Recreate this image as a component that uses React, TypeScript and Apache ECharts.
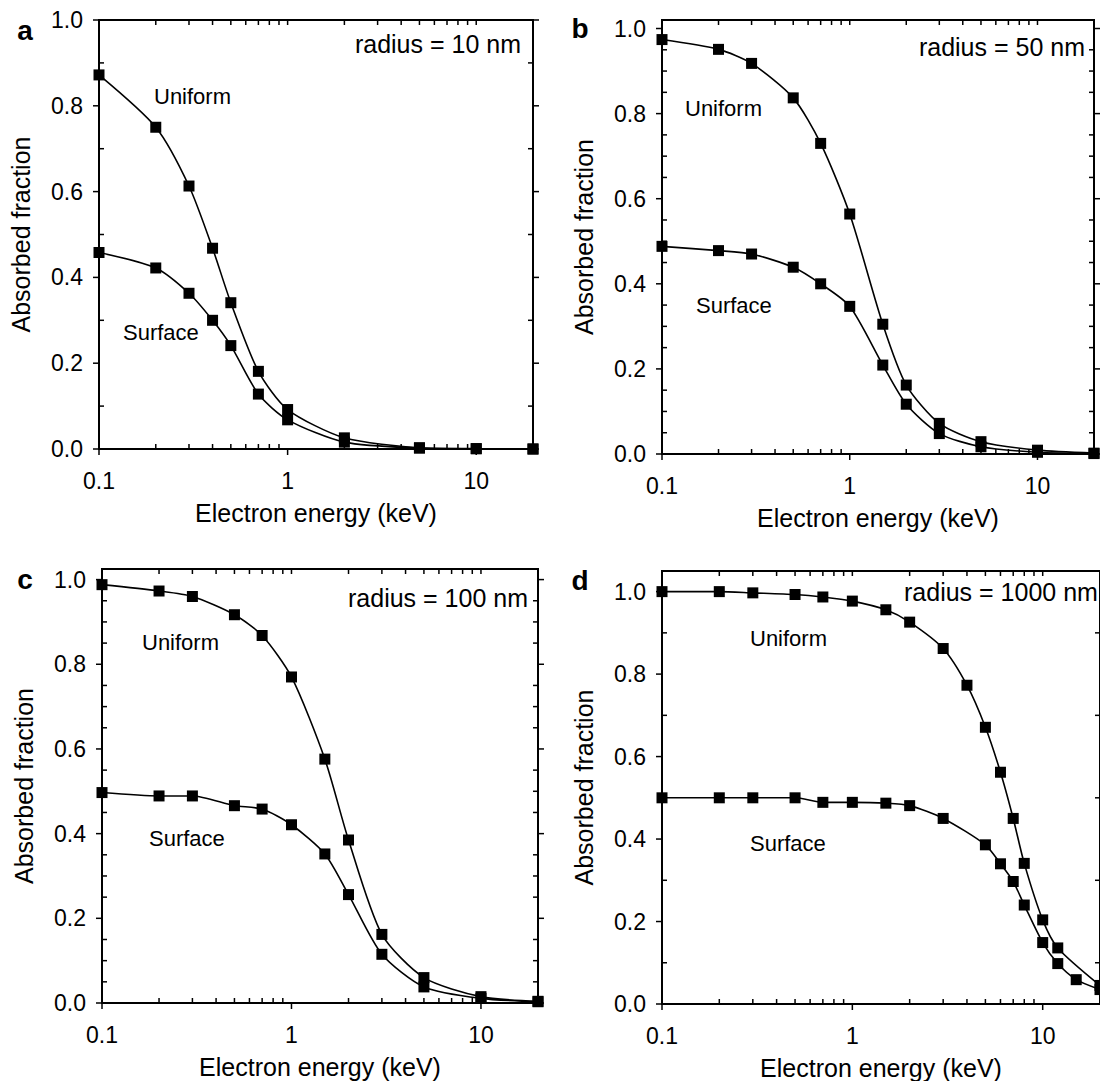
import React, { useEffect, useRef } from "react";
import * as echarts from "echarts";

// ---------- data ----------
const energyA = [0.1, 0.2, 0.3, 0.4, 0.5, 0.7, 1, 2, 5, 10, 20];
const uniformA = [0.872, 0.75, 0.613, 0.468, 0.341, 0.181, 0.092, 0.026, 0.003, 0.001, 0];
const surfaceA = [0.458, 0.422, 0.363, 0.3, 0.241, 0.128, 0.068, 0.016, 0.002, 0.0005, 0];

const energyBC = [0.1, 0.2, 0.3, 0.5, 0.7, 1, 1.5, 2, 3, 5, 10, 20];
const uniformB = [0.974, 0.951, 0.918, 0.837, 0.73, 0.564, 0.305, 0.162, 0.072, 0.029, 0.009, 0.002];
const surfaceB = [0.488, 0.478, 0.47, 0.439, 0.4, 0.347, 0.209, 0.117, 0.048, 0.017, 0.004, 0.001];
const uniformC = [0.988, 0.973, 0.96, 0.917, 0.868, 0.77, 0.576, 0.385, 0.162, 0.06, 0.015, 0.004];
const surfaceC = [0.497, 0.489, 0.489, 0.466, 0.458, 0.421, 0.352, 0.256, 0.115, 0.038, 0.011, 0.003];

const energyUniformD = [0.1, 0.2, 0.3, 0.5, 0.7, 1, 1.5, 2, 3, 4, 5, 6, 7, 8, 10, 12, 20];
const uniformD = [1.0, 1.0, 0.997, 0.993, 0.987, 0.977, 0.956, 0.926, 0.862, 0.773, 0.671, 0.562, 0.45, 0.341, 0.204, 0.136, 0.045];
const energySurfaceD = [0.1, 0.2, 0.3, 0.5, 0.7, 1, 1.5, 2, 3, 5, 6, 7, 8, 10, 12, 15, 20];
const surfaceD = [0.5, 0.5, 0.5, 0.5, 0.489, 0.489, 0.487, 0.481, 0.45, 0.386, 0.34, 0.297, 0.24, 0.149, 0.098, 0.059, 0.035];

// ---------- ticks ----------
const xMin = 0.1;
const xMax = 20;
const xMajorTicks = [0.1, 1, 10];
const xMinorTicks = [0.2, 0.3, 0.4, 0.5, 0.6, 0.7, 0.8, 0.9, 2, 3, 4, 5, 6, 7, 8, 9];
const xTopTicks = [0.2, 0.3, 0.4, 0.5, 0.6, 0.7, 0.8, 0.9, 1, 2, 3, 4, 5, 6, 7, 8, 9, 10];
const yMajorTicks = [0, 0.2, 0.4, 0.6, 0.8, 1.0];
const yMinorTenths = [0.1, 0.3, 0.5, 0.7, 0.9];
const yMinorTwentieths = [0.05, 0.1, 0.15, 0.25, 0.3, 0.35, 0.45, 0.5, 0.55, 0.65, 0.7, 0.75, 0.85, 0.9, 0.95];

const xTitle = "Electron energy (keV)";
const yTitle = "Absorbed fraction";

// ---------- layout ----------
const FONT = "'Liberation Sans', Arial, Helvetica, sans-serif";

const panels = [
  {
    letter: "a", radius: "radius = 10 nm",
    grid: { left: 99, top: 20, width: 434, height: 429 }, yMax: 1.0, yMinor: yMinorTenths,
    uniform: { x: energyA, y: uniformA }, surface: { x: energyA, y: surfaceA },
    letterPos: [25, 30], radiusPos: [521, 44, "right"], uniformPos: [154, 96], surfacePos: [123, 332],
  },
  {
    letter: "b", radius: "radius = 50 nm",
    grid: { left: 662, top: 20, width: 432, height: 434 }, yMax: 1.02, yMinor: yMinorTwentieths,
    uniform: { x: energyBC, y: uniformB }, surface: { x: energyBC, y: surfaceB },
    letterPos: [580, 28], radiusPos: [1085, 47, "right"], uniformPos: [685, 108], surfacePos: [696, 305],
  },
  {
    letter: "c", radius: "radius = 100 nm",
    grid: { left: 102, top: 569, width: 436, height: 434 }, yMax: 1.025, yMinor: yMinorTwentieths,
    uniform: { x: energyBC, y: uniformC }, surface: { x: energyBC, y: surfaceC },
    letterPos: [25, 579], radiusPos: [528, 598, "right"], uniformPos: [142, 642], surfacePos: [149, 838],
  },
  {
    letter: "d", radius: "radius = 1000 nm",
    grid: { left: 662, top: 571, width: 441, height: 433 }, yMax: 1.05, yMinor: yMinorTenths,
    uniform: { x: energyUniformD, y: uniformD }, surface: { x: energySurfaceD, y: surfaceD },
    letterPos: [580, 580], radiusPos: [904, 592, "left"], uniformPos: [750, 638], surfacePos: [750, 843],
  },
];

const fmtLog = (v: number) => String(Number(Number(v).toPrecision(3)));

// side: 0 bottom, 1 top, 2 left, 3 right; kind: 0 major (outward), 1 minor (inward)
function tickRows(yMax: number, yMinor: number[]) {
  const rows: number[][] = [];
  xMajorTicks.forEach((v) => rows.push([v, 0, 0, 0]));
  xMinorTicks.forEach((v) => rows.push([v, 0, 0, 1]));
  xTopTicks.forEach((v) => rows.push([v, yMax, 1, 1]));
  yMajorTicks.forEach((v) => {
    rows.push([xMin, v, 2, 0]);
    rows.push([xMax, v, 3, 0]);
  });
  yMinor.forEach((v) => {
    rows.push([xMin, v, 2, 1]);
    rows.push([xMax, v, 3, 1]);
  });
  return rows;
}

function buildOption() {
  const grid: any[] = [];
  const xAxis: any[] = [];
  const yAxis: any[] = [];
  const series: any[] = [];
  const graphic: any[] = [];
  const black = "#000";

  panels.forEach((p, i) => {
    grid.push({ ...p.grid, containLabel: false, show: true, borderColor: black, borderWidth: 2, backgroundColor: "transparent" });
    xAxis.push({
      type: "log", logBase: 10, gridIndex: i, min: xMin, max: xMax, position: "bottom",
      name: xTitle, nameLocation: "middle", nameGap: 51,
      nameTextStyle: { fontSize: 25, color: black, fontFamily: FONT },
      axisLine: { show: true, onZero: false, lineStyle: { color: black, width: 2 } },
      axisTick: { show: false },
      axisLabel: { show: true, customValues: xMajorTicks, margin: 20, fontSize: 23, color: black, fontFamily: FONT, formatter: fmtLog },
      splitLine: { show: false }, minorTick: { show: false }, minorSplitLine: { show: false },
    });
    yAxis.push({
      type: "value", gridIndex: i, min: 0, max: p.yMax, position: "left",
      name: yTitle, nameLocation: "middle", nameGap: 66, nameRotate: 90,
      nameTextStyle: { fontSize: 25, color: black, fontFamily: FONT },
      axisLine: { show: true, onZero: false, lineStyle: { color: black, width: 2 } },
      axisTick: { show: false },
      axisLabel: { show: true, customValues: yMajorTicks, margin: 16, fontSize: 23, color: black, fontFamily: FONT, formatter: (v: number) => Number(v).toFixed(1) },
      splitLine: { show: false }, minorTick: { show: false }, minorSplitLine: { show: false },
    });

    // tick marks on all four sides, placed through the axes' scales
    series.push({
      type: "custom", name: "ticks-" + p.letter, xAxisIndex: i, yAxisIndex: i,
      data: tickRows(p.yMax, p.yMinor), encode: { x: 0, y: 1 },
      clip: false, silent: true, z: 2,
      renderItem: (params: any, api: any) => {
        const pt = api.coord([api.value(0), api.value(1)]);
        const side = api.value(2);
        const inward = api.value(3) === 1;
        const len = inward ? 5 : 6;
        let dx = 0;
        let dy = 0;
        if (side === 0) dy = inward ? -len : len;
        else if (side === 1) dy = inward ? len : -len;
        else if (side === 2) dx = inward ? len : -len;
        else dx = inward ? -len : len;
        return {
          type: "line",
          shape: { x1: pt[0], y1: pt[1], x2: pt[0] + dx, y2: pt[1] + dy },
          style: { stroke: black, lineWidth: 1.5 },
        };
      },
    });

    const mk = (name: string, s: { x: number[]; y: number[] }) => ({
      type: "line", name, xAxisIndex: i, yAxisIndex: i,
      data: s.x.map((e, k) => [e, s.y[k]]),
      smooth: 0.25,
      symbol: "rect", symbolSize: 11, showSymbol: true,
      lineStyle: { color: black, width: 1.6 }, itemStyle: { color: black },
      clip: false, z: 3,
    });
    series.push(mk("Uniform", p.uniform));
    series.push(mk("Surface", p.surface));

    const txt = (text: string, x: number, y: number, size: number, align: string, weight = "normal") => ({
      type: "text", x, y, silent: true,
      style: { text, fill: black, fontSize: size, fontFamily: FONT, fontWeight: weight, textAlign: align, textVerticalAlign: "middle" },
    });
    graphic.push(txt(p.letter, p.letterPos[0], p.letterPos[1], 28, "center", "bold"));
    graphic.push(txt(p.radius, p.radiusPos[0] as number, p.radiusPos[1] as number, 25, p.radiusPos[2] as string));
    graphic.push(txt("Uniform", p.uniformPos[0], p.uniformPos[1], 22, "left"));
    graphic.push(txt("Surface", p.surfacePos[0], p.surfacePos[1], 22, "left"));
  });

  return {
    animation: false,
    backgroundColor: "#fff",
    textStyle: { fontFamily: FONT },
    grid, xAxis, yAxis, series, graphic,
  };
}

export default function App() {
  const ref = useRef<HTMLDivElement>(null);
  useEffect(() => {
    if (!ref.current) return;
    const chart = echarts.init(ref.current, undefined, { renderer: "svg" });
    chart.setOption(buildOption() as any);
    return () => chart.dispose();
  }, []);
  return (
    <div
      ref={ref}
      style={{ position: "absolute", left: 0, top: 0, width: 1100, height: 1081, background: "#fff" }}
    />
  );
}
